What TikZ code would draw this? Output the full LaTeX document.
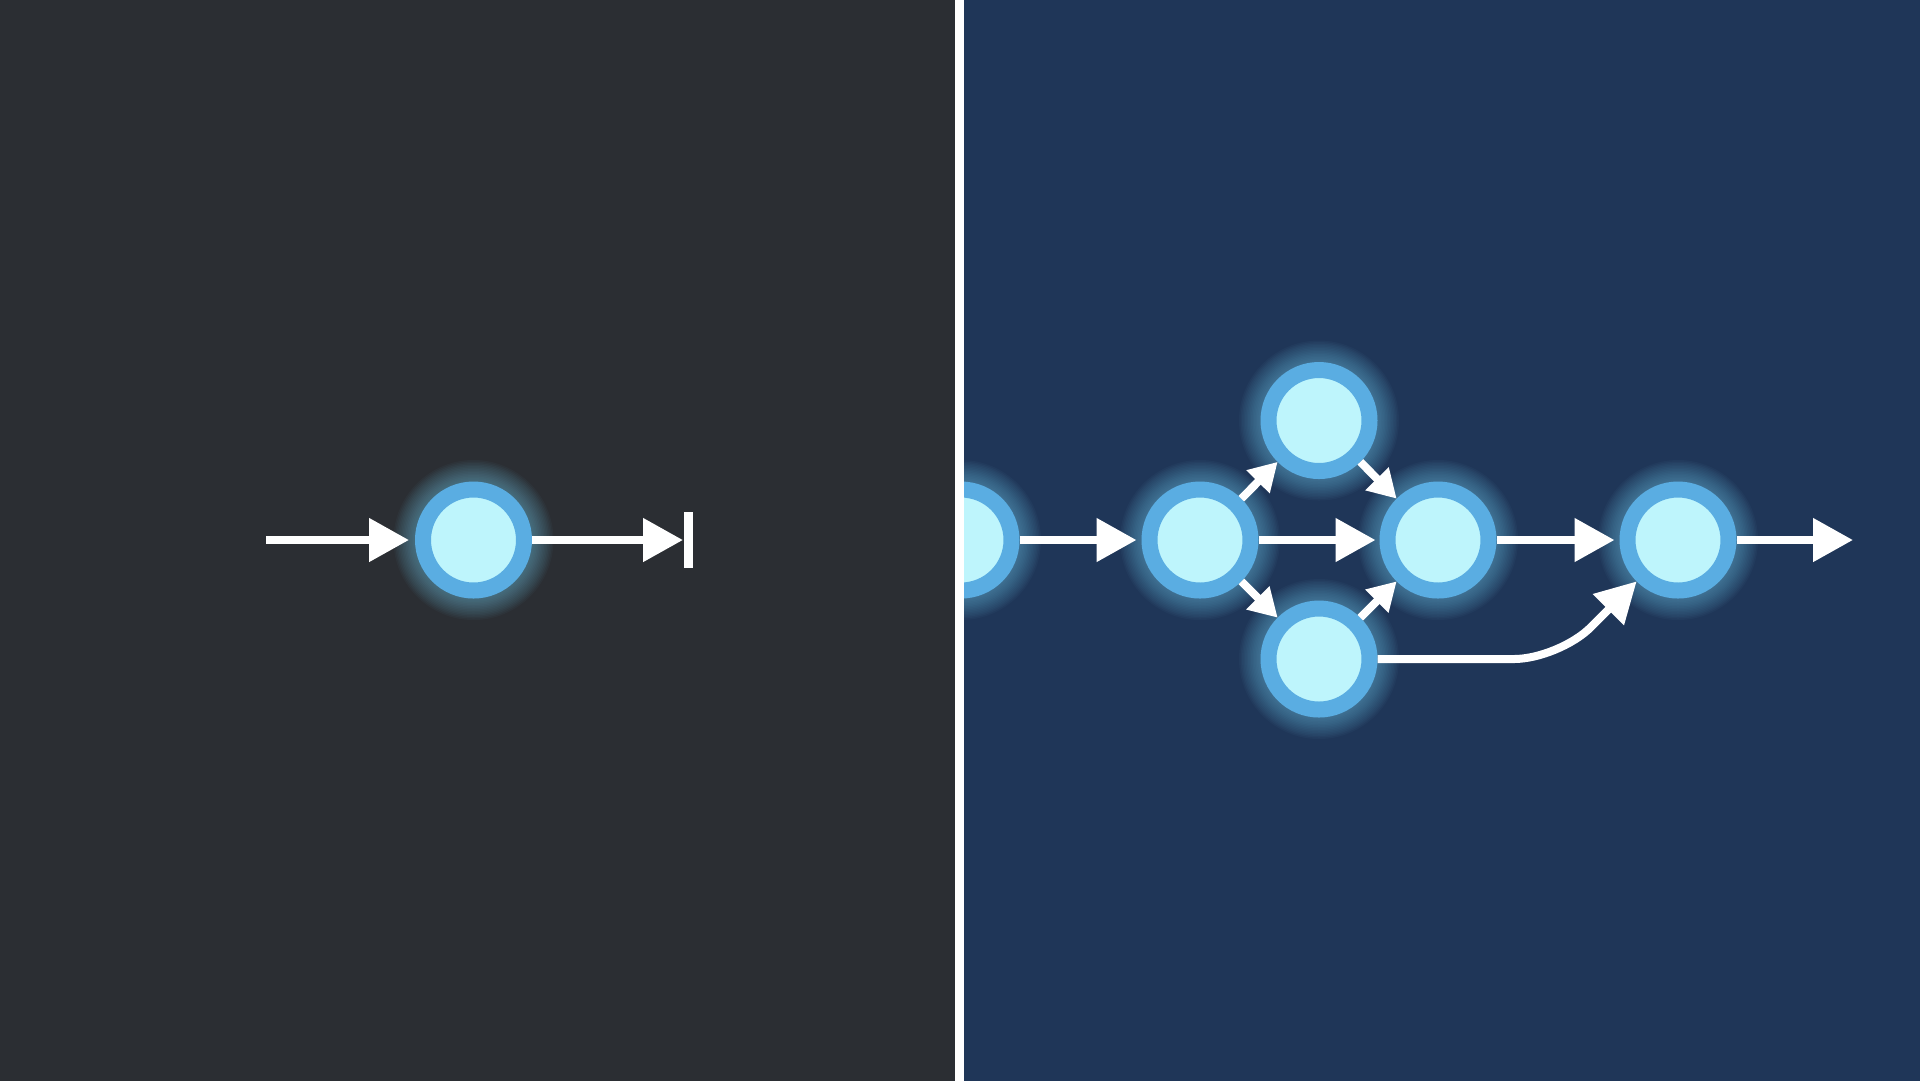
\documentclass[tikz,border=0pt]{standalone}
\usepackage{xcolor}
\usepackage{tikz}
\usetikzlibrary{arrows.meta,calc,backgrounds,positioning}

\definecolor{slate}{HTML}{2B2E33}
\definecolor{navy}{HTML}{1F3658}
\definecolor{ringblue}{HTML}{5AADE2}
\definecolor{coreblue}{HTML}{BEF5FC}
\definecolor{haze}{HTML}{78D2F4}

\tikzset{
  dot/.style={circle,draw=ringblue,fill=coreblue,line width=1.6mm,minimum size=10.1mm,inner sep=0pt},
  flow/.style={white,line width=0.8mm,-{Triangle[length=4mm,width=4.2mm]}},
  twig/.style={white,line width=0.8mm,-{Triangle[length=2.8mm,width=3.1mm]}},
}
% soft light round a node
\newcommand{\halo}[1]{%
  \foreach \r in {5.9,6.05,...,8.1} \fill[haze,opacity=0.035] (#1) circle (\r mm);}

\begin{document}
\begin{tikzpicture}[x=0.1mm,y=-0.1mm]
  \useasboundingbox (0,0) rectangle (1920,1080);
  % left half: one step, then a dead end
  \coordinate (in) at (266,540);
  \node[dot] (solo) at (473.5,540) {};
  \coordinate (stop) at (688.5,540);
  \draw[flow,shorten >=0.6mm] (in) -- (solo);
  \draw[flow,shorten >=0.55mm] (solo) -- (stop);
  \draw[white,line width=0.9mm] ($(stop)+(0,-28)$) -- ($(stop)+(0,28)$);
  % right half: the steps branch and join again
  \begin{scope}
    \clip (959,-10) rectangle (1930,1090);
    \node[dot] (a) at (961,540) {};
    \node[dot] (b) at (1200,540) {};
    \node[dot] (up) at (1319,420.5) {};
    \node[dot] (dn) at (1319,659) {};
    \node[dot] (c) at (1438,540) {};
    \node[dot] (d) at (1678,540) {};
    \coordinate (bend) at (1559,659);
    \coordinate (out) at (1853,540);
  \end{scope}
  \draw[flow,shorten >=0.5mm] (a) -- (b);
  \draw[flow,shorten >=0.4mm] (b) -- (c);
  \draw[flow,shorten >=0.5mm] (c) -- (d);
  \draw[flow] (d) -- (out);
  \draw[twig] (b.45) -- (up.225);
  \draw[twig] (b.-45) -- (dn.135);
  \draw[twig] (up.-45) -- (c.135);
  \draw[twig] (dn.45) -- (c.-135);
  \draw[flow,rounded corners=4.5mm] (dn.east) -- (bend) -- (d.225);
  % the two panels and the glow go behind
  \begin{scope}[on background layer]
    \fill[slate] (-10,-10) rectangle (959,1090);
    \fill[navy] (959,-10) rectangle (1930,1090);
    \foreach \n in {solo,b,up,dn,c,d} {\halo{\n}}
    \begin{scope}
      \clip (959,-10) rectangle (1930,1090);
      \halo{a}
    \end{scope}
  \end{scope}
  \draw[white,line width=0.85mm] (959.5,-10) -- (959.5,1090);
\end{tikzpicture}
\end{document}
